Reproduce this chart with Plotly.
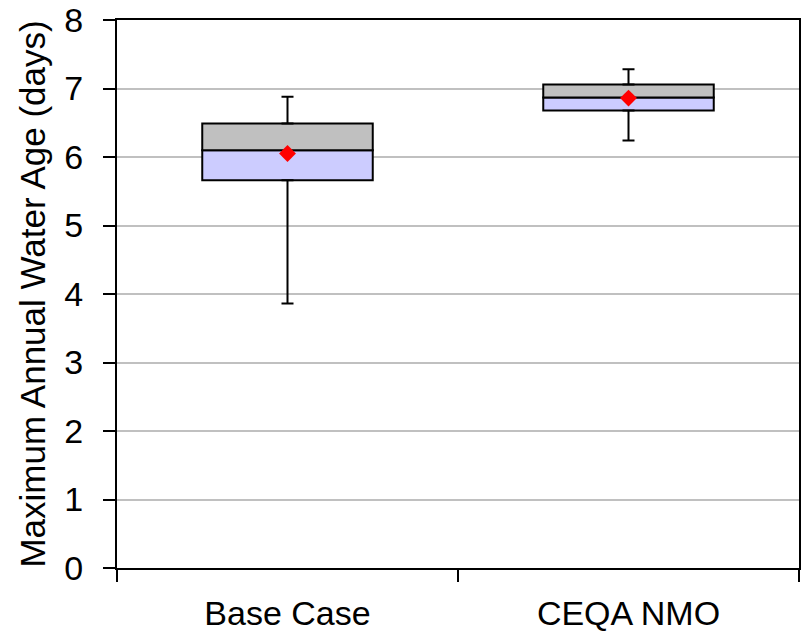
import plotly.graph_objects as go

categories = ["Base Case", "CEQA NMO"]
whisker_low = [3.86, 6.24]
q1 = [5.66, 6.68]
median = [6.10, 6.87]
q3 = [6.49, 7.06]
whisker_high = [6.88, 7.28]
mean = [6.05, 6.86]

y_ticks = [0, 1, 2, 3, 4, 5, 6, 7, 8]

FONT = "Liberation Sans, Arial, sans-serif"

lower_h = [m - a for m, a in zip(median, q1)]
upper_h = [b - m for b, m in zip(q3, median)]
up_w = [h - b for h, b in zip(whisker_high, q3)]
low_w = [a - l for a, l in zip(q1, whisker_low)]
zeros = [0 for _ in categories]

fig = go.Figure()

fig.add_trace(go.Bar(
    x=categories, y=lower_h, base=q1, width=0.5,
    marker=dict(color="#CCCCFF", line=dict(color="black", width=2)),
    showlegend=False, hoverinfo="skip",
))
fig.add_trace(go.Bar(
    x=categories, y=upper_h, base=median, width=0.5,
    marker=dict(color="#C0C0C0", line=dict(color="black", width=2)),
    showlegend=False, hoverinfo="skip",
))
# upper whiskers
fig.add_trace(go.Scatter(
    x=categories, y=q3, mode="markers",
    marker=dict(size=1, color="rgba(0,0,0,0)"),
    error_y=dict(type="data", symmetric=False, array=up_w, arrayminus=zeros,
                 color="black", thickness=2, width=6),
    showlegend=False, hoverinfo="skip",
))
# lower whiskers
fig.add_trace(go.Scatter(
    x=categories, y=q1, mode="markers",
    marker=dict(size=1, color="rgba(0,0,0,0)"),
    error_y=dict(type="data", symmetric=False, array=zeros, arrayminus=low_w,
                 color="black", thickness=2, width=6),
    showlegend=False, hoverinfo="skip",
))
# means
fig.add_trace(go.Scatter(
    x=categories, y=mean, mode="markers",
    marker=dict(symbol="diamond", size=13, color="#FF0000"),
    showlegend=False,
))

fig.update_layout(
    width=805, height=636,
    margin=dict(l=117, r=6, t=20, b=68),
    paper_bgcolor="white", plot_bgcolor="white",
    barmode="overlay",
    font=dict(family=FONT, size=34, color="black"),
    xaxis=dict(
        type="category", tickson="boundaries", automargin=False,
        showline=True, linecolor="black", linewidth=2, mirror=True,
        ticks="outside", ticklen=12, tickwidth=2, tickcolor="black",
        showgrid=False, tickfont=dict(size=34), ticklabelstandoff=14,
        ticklabeloverflow="allow",
    ),
    yaxis=dict(
        range=[0, 8], tickvals=y_ticks, automargin=False,
        showline=True, linecolor="black", linewidth=2, mirror=True,
        ticks="outside", ticklen=12, tickwidth=2, tickcolor="black",
        showgrid=True, gridcolor="#C0C0C0", gridwidth=1.5,
        zeroline=False, tickfont=dict(size=34), ticklabelstandoff=13,
        ticklabeloverflow="allow",
        title=dict(text="Maximum Annual Water Age (days)", font=dict(size=35), standoff=8),
    ),
)

fig.write_html(
    "out.html",
    config={"displayModeBar": False},
    post_script="document.body.style.margin='0';document.body.style.overflow='hidden';",
)
